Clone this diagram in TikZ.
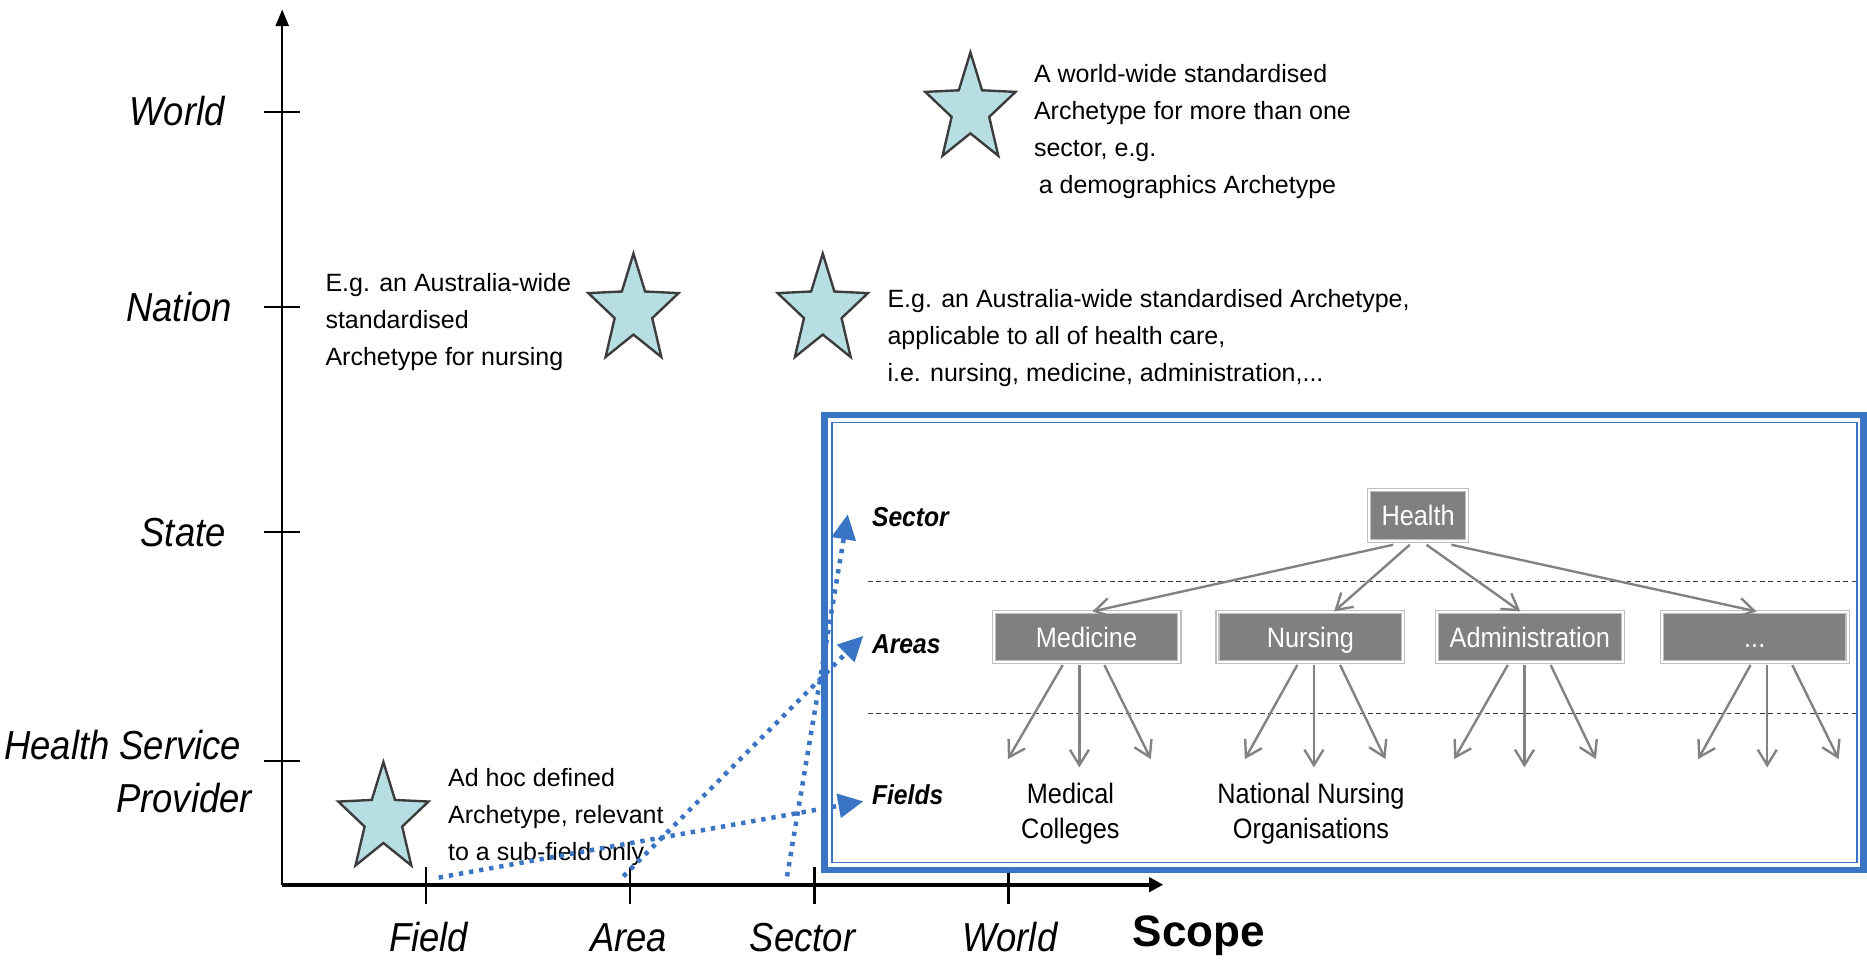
\documentclass[tikz,border=0pt]{standalone}
\usepackage{fontspec}
\setmainfont{Liberation Sans}
\newfontfamily\narrowfont[FakeStretch=0.9]{Liberation Sans}
\usetikzlibrary{arrows.meta,calc}

\definecolor{boxblue}{RGB}{58,116,196}
\definecolor{starfill}{RGB}{183,223,227}
\definecolor{starline}{RGB}{60,60,60}
\definecolor{treegray}{RGB}{128,128,128}
\definecolor{arrgray}{RGB}{130,130,130}
\definecolor{dashgray}{RGB}{60,60,60}

\newcommand\archstar[3]{%
  \coordinate (#1) at (#2,#3);
  \draw[starsty] (#2,#3-48)
    \foreach \k [evaluate=\k as \r using {48-28*mod(\k,2)}] in {1,...,9}
      { -- ({#2+0.83*\r*cos(90+36*\k)},{#3-\r*sin(90+36*\k)}) } -- cycle;
}

\tikzset{
  starsty/.style={draw=starline, line width=1pt, fill=starfill, line join=miter},
  ylab/.style={font=\narrowfont\itshape\fontsize{17}{20}\selectfont, inner sep=0pt, anchor=east},
  xlab/.style={font=\narrowfont\itshape\fontsize{17}{20}\selectfont, inner sep=0pt, anchor=base},
  scopelab/.style={font=\bfseries\fontsize{18.5}{22}\selectfont, inner sep=0pt, anchor=base},
  annot/.style={font=\fontsize{10.5}{15.5}\selectfont, align=left, anchor=north west, inner sep=0pt},
  treebox/.style={draw=gray!50, double=white, double distance=0.8pt, line width=0.5pt,
    fill=treegray, text=white, font=\narrowfont\fontsize{11.8}{14}\selectfont, inner sep=0pt,
    text height=8.5pt, text depth=0pt},
  areabox/.style={treebox, minimum width=78pt, minimum height=21pt},
  levlab/.style={font=\narrowfont\bfseries\itshape\fontsize{11.5}{14}\selectfont, anchor=base west, inner sep=0pt},
  fieldtxt/.style={font=\narrowfont\fontsize{11.8}{14.85}\selectfont, align=center, anchor=north, inner sep=0pt},
  axistick/.style={draw=black, line width=1pt},
  yaxis/.style={draw=black, line width=1pt, -{Triangle[length=7pt,width=5.5pt]}},
  xaxis/.style={draw=black, line width=1.7pt, -{Triangle[length=6pt,width=6pt]}},
  outerbox/.style={draw=boxblue, line width=2.75pt},
  innerbox/.style={draw=boxblue, line width=0.75pt},
  sepline/.style={draw=dashgray, line width=0.5pt, dash pattern=on 2pt off 1.5pt},
  treearrow/.style={draw=arrgray, line width=1pt, -{Straight Barb[length=6.5pt,width=8pt]}},
  bluearrow/.style={draw=boxblue, line width=1.9pt, dash pattern=on 1.8pt off 2.5pt,
    -{Triangle[length=10.5pt,width=10pt]}}
}

\begin{document}
\begin{tikzpicture}[x=0.5pt,y=-0.5pt]
\useasboundingbox (0,0) rectangle (1568,810);
\fill[white] (0,0) rectangle (1568,810);

% ticks
\foreach \yy in {94,258,447,639} { \draw[axistick] (222,\yy) -- (252,\yy); }
\foreach \xx in {358,529,684,847} { \draw[axistick] (\xx,728) -- (\xx,759); }

% axes
\coordinate (O) at (237,743);
\coordinate (ytip) at (237,8);
\coordinate (xtip) at (977,743);
\draw[yaxis] (O) -- (ytip);
\draw[xaxis] (O) -- (xtip);

% axis labels
\node[ylab] (lworld) at (189,93) {World};
\node[ylab] (lnation) at (195,258) {Nation};
\node[ylab] (lstate) at (190,447) {State};
\node[ylab] (lhsp1) at (203,626) {Health Service};
\node[ylab] (lhsp2) at (212,670) {Provider};

\node[xlab] (xfield) at (360,799) {Field};
\node[xlab] (xarea) at (528,799) {Area};
\node[xlab] (xsector) at (674,799) {Sector};
\node[xlab] (xworld) at (848,799) {World};
\node[scopelab] (scope) at (1007,795) {Scope};

% stars
\archstar{s1}{815}{92}
\archstar{s2}{532}{261}
\archstar{s3}{691}{261}
\archstar{s4}{322}{688}

% annotations
\node[annot] (t1) at (868,54) {A world-wide standardised\\Archetype for more than one\\sector, e.g.\\\hspace{2pt}a demographics Archetype};
\node[annot] (t2) at (273,229) {E.g. an Australia-wide\\standardised\\Archetype for nursing};
\node[annot] (t3) at (745,243) {E.g. an Australia-wide standardised Archetype,\\applicable to all of health care,\\i.e. nursing, medicine, administration,...};
\node[annot] (t4) at (376,645) {Ad hoc defined\\Archetype, relevant\\to a sub-field only};

% blue frame
\draw[outerbox] (692.5,348.5) rectangle (1565,730.5);
\draw[innerbox] (699,354.8) rectangle (1559.5,724.4);

% level separators
\draw[sepline] (729,488.5) -- (1562,488.5);
\draw[sepline] (729,599) -- (1562,599);

% tree
\node[treebox, minimum width=41pt, minimum height=21.5pt] (health) at (1191,433) {Health};
\node[areabox] (medicine) at (912.5,535) {Medicine};
\node[areabox] (nursing) at (1100.5,535) {Nursing};
\node[areabox] (admin) at (1284.8,535) {Administration};
\node[areabox] (dots) at (1473.7,535) {...};

\draw[treearrow] ($(health.south)+(-21,2.5)$) -- ($(medicine.north)+(5,0)$);
\draw[treearrow] ($(health.south)+(-7,2.5)$) -- ($(nursing.north)+(20,0)$);
\draw[treearrow] ($(health.south)+(7,2.5)$) -- ($(admin.north)+(-8,0)$);
\draw[treearrow] ($(health.south)+(28,2.5)$) -- ($(dots.north)+(1.5,0)$);

\foreach \b/\sa/\sb/\sc/\ea/\eb/\ec in {medicine/-20/-6/15/-66/-6/54, nursing/-11/3/25/-55/3/63, admin/-18.5/-4.5/17.5/-63.5/-4.5/55.5, dots/-3.5/10.5/31.5/-47.5/10.5/70.5}{
  \draw[treearrow] ($(\b.south)+(\sa,2)$) -- ($(\b.south)+(\ea,81)$);
  \draw[treearrow] ($(\b.south)+(\sb,2)$) -- ($(\b.south)+(\eb,88)$);
  \draw[treearrow] ($(\b.south)+(\sc,2)$) -- ($(\b.south)+(\ec,81)$);
}

% level labels
\node[levlab] (lsector) at (732,442) {Sector};
\node[levlab] (lareas) at (732,549) {Areas};
\node[levlab] (lfields) at (732,676) {Fields};

% field texts
\node[fieldtxt] (medcol) at (899,657) {Medical\\Colleges};
\node[fieldtxt] (natnurs) at (1101,657) {National Nursing\\Organisations};

% blue dotted arrows
\coordinate (dfs) at (368.5,737);
\coordinate (das) at (523.5,736);
\coordinate (dss) at (661,736);
\draw[bluearrow] (dfs) -- ($(lfields.base west)+(-7,-3)$);
\draw[bluearrow] (das) -- ($(lareas.base west)+(-7,-15)$);
\draw[bluearrow] (dss) -- ($(lsector.base west)+(-20,-10)$);
\end{tikzpicture}
\end{document}
